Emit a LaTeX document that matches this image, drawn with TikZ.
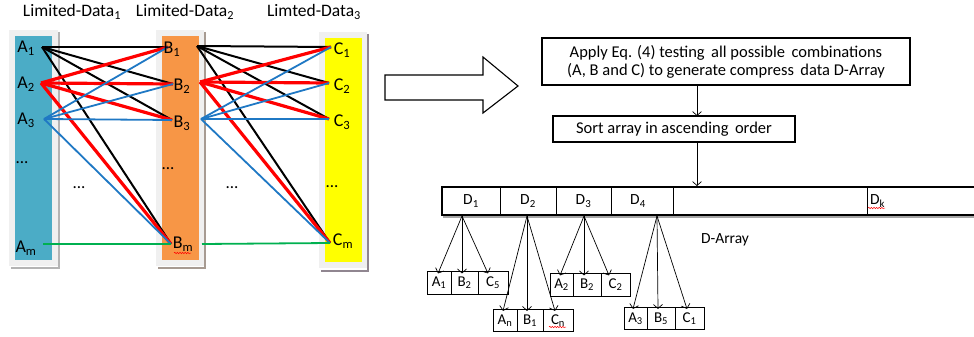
\documentclass[tikz,border=0pt]{standalone}
\usepackage{fontspec}
\setmainfont{Carlito}
\usetikzlibrary{arrows.meta,decorations.pathmorphing}

\definecolor{aquabar}{HTML}{4BACC6}
\definecolor{orangebar}{HTML}{F79646}
\definecolor{yellowbar}{HTML}{FFFF00}
\definecolor{linkred}{HTML}{FF0000}
\definecolor{linkblue}{HTML}{1F78C4}
\definecolor{linkgreen}{HTML}{00B050}
\definecolor{cardfill}{HTML}{F0F0F0}
\definecolor{cardedge}{HTML}{B4B4B4}

\tikzset{
  card/.style={fill=cardfill, draw=none},
  cardshadow/.style={draw=cardedge, line width=2.2pt},
  linkblack/.style={draw=black, line width=2pt},
  linkr/.style={draw=linkred, line width=3.2pt},
  linkb/.style={draw=linkblue, line width=1.8pt},
  linkg/.style={draw=linkgreen, line width=1.8pt},
  colhead/.style={font=\fontsize{17.5}{19}\selectfont, inner sep=0pt},
  itemlbl/.style={font=\fontsize{18}{19}\selectfont, inner sep=0pt},
  dots/.style={font=\fontsize{17}{18}\selectfont, inner sep=0pt},
  flowbox/.style={draw=black, line width=1.1pt, align=center, inner sep=0pt,
                  font=\fontsize{16.5}{18}\selectfont},
  flowarrow/.style={draw=black, line width=0.7pt, -{Straight Barb[length=4pt,width=9pt]}},
  dcell/.style={draw=black, line width=1pt, minimum height=28pt, inner sep=0pt,
                font=\fontsize{15.5}{17}\selectfont},
  scell/.style={draw=black, line width=0.6pt, minimum height=22.5pt, inner sep=0pt,
                font=\fontsize{15}{16}\selectfont},
  squiggle/.style={draw=linkred, line width=0.5pt, decorate,
                   decoration={snake, amplitude=0.7pt, segment length=2.6pt}},
}

\begin{document}
\begin{tikzpicture}[x=1pt, y=-1pt]
\useasboundingbox (0,0) rectangle (974,337);
\clip (0,0) rectangle (974,337);

% ---------- three data columns: card, shadow, coloured bar ----------
\fill[card] (9,30) rectangle (58,266);
\draw[cardshadow] (59,32) -- (59,268) -- (11,268);
\fill[aquabar] (15,36) rectangle (52,260);

\fill[card] (156,30) rectangle (204,266);
\draw[cardshadow, draw=cardedge!80!orangebar!60!gray] (205,32) -- (205,268) -- (158,268);
\fill[orangebar] (162,36) rectangle (199,260);

\fill[card] (319,32) rectangle (367,268);
\draw[cardshadow, draw=cardedge!80!violet!40!gray] (368,34) -- (368,271) -- (321,271);
\fill[yellowbar] (325,38) rectangle (362,262);

% column headings
\node[colhead] (h1) at (72,12) {Limited-Data\textsubscript{1}};
\node[colhead] (h2) at (185,12) {Limited-Data\textsubscript{2}};
\node[colhead] (h3) at (314,12) {Limted-Data\textsubscript{3}};

% ---------- connection points ----------
\coordinate (a1) at (42,47);
\coordinate (a2) at (41,83);
\coordinate (a3) at (44,119);
\coordinate (am) at (43,244);
\coordinate (b1i) at (168,47);
\coordinate (b2i) at (173,84);
\coordinate (b3i) at (172,120);
\coordinate (bmi) at (171,244);
\coordinate (b1o) at (197,46);
\coordinate (b2o) at (200,82);
\coordinate (b3o) at (201,119);
\coordinate (bmo) at (202,244);
\coordinate (c1) at (331,47);
\coordinate (c2) at (329,83);
\coordinate (c3) at (329,119);
\coordinate (cm) at (330,243);

% ---------- all pairings between neighbouring columns ----------
\foreach \t in {b1i,b2i,b3i,bmi} \draw[linkblack] (a1) -- (\t);
\foreach \t in {c1,c2,c3,cm} \draw[linkblack] (b1o) -- (\t);
\foreach \t in {b1i,b2i,b3i,bmi} \draw[linkr] (a2) -- (\t);
\foreach \t in {c1,c2,c3,cm} \draw[linkr] (b2o) -- (\t);
\foreach \t in {b1i,b2i,b3i,bmi} \draw[linkb] (a3) -- (\t);
\foreach \t in {c1,c2,c3,cm} \draw[linkb] (b3o) -- (\t);
\draw[linkg] (am) -- (bmi);
\draw[linkg] (bmo) -- (cm);

% item labels
\node[itemlbl] (la1) at (26,48) {A\textsubscript{1}};
\node[itemlbl] (la2) at (26,84) {A\textsubscript{2}};
\node[itemlbl] (la3) at (26,120) {A\textsubscript{3}};
\node[itemlbl] (lam) at (26,248) {A\textsubscript{m}};
\node[itemlbl] (lb1) at (172,49) {B\textsubscript{1}};
\node[itemlbl] (lb2) at (182,86) {B\textsubscript{2}};
\node[itemlbl] (lb3) at (182,123) {B\textsubscript{3}};
\node[itemlbl] (lbm) at (183,244) {B\textsubscript{m}};
\node[itemlbl] (lc1) at (342,50) {C\textsubscript{1}};
\node[itemlbl] (lc2) at (342,86) {C\textsubscript{2}};
\node[itemlbl] (lc3) at (342,122) {C\textsubscript{3}};
\node[itemlbl] (lcm) at (343,241) {C\textsubscript{m}};
\draw[squiggle] (174,253) -- (191,253);

% ellipses
\node[dots] (e1) at (22,163) {...};
\node[dots] (e2) at (79,188) {...};
\node[dots] (e3) at (168,169) {...};
\node[dots] (e4) at (232,188) {...};
\node[dots] (e5) at (332,187) {...};

% ---------- block arrow ----------
\draw[line width=1.1pt, line join=miter] (385,75) -- (483,75) -- (483,57) -- (518,86)
  -- (483,113) -- (483,100) -- (385,100) -- cycle;

% ---------- processing steps ----------
\node[flowbox, minimum width=368pt, minimum height=47pt] (apply) at (726,61.5)
  {Apply Eq. (4) testing\, all possible\, combinations\\(A, B and C) to generate compress\, data D-Array};
\node[flowbox, minimum width=242pt, minimum height=26pt] (sort) at (674,129)
  {Sort array in ascending\, order};
\coordinate (applyout) at (697,85);
\coordinate (sortin) at (697,116);
\coordinate (sortout) at (697,142);
\coordinate (arrin) at (697,186);
\draw[flowarrow] (applyout) -- (sortin);
\draw[flowarrow] (sortout) -- (arrin);

% ---------- D-Array ----------
\draw[draw=gray!70, line width=2pt] (443,217) -- (990,217);
\node[dcell, minimum width=58pt] (d1) at (471,201) {D\textsubscript{1}};
\node[dcell, minimum width=56pt] (d2) at (528,201) {D\textsubscript{2}};
\node[dcell, minimum width=55pt] (d3) at (583.5,201) {D\textsubscript{3}};
\node[dcell, minimum width=62pt] (d4) at (642,201) {\hspace*{-8pt}D\textsubscript{4}};
\node[dcell, minimum width=194pt] (dmid) at (770,201) {};
\node[dcell, minimum width=123pt, text width=117pt, align=left] (dk) at (928.5,201) {D\textsubscript{k}};
\draw[line width=1.8pt] (442,187) rectangle (990,215);
\draw[squiggle] (868,208) -- (885,208);
\node[font=\fontsize{15.5}{17}\selectfont, inner sep=0pt] (dlabel) at (725,240) {D-Array};

% ---------- members of D1..D4 ----------
\node[scell, minimum width=24pt] (g1a) at (439,283) {A\textsubscript{1}};
\node[scell, minimum width=27pt] (g1b) at (464.5,283) {B\textsubscript{2}};
\node[scell, minimum width=30pt] (g1c) at (493,283) {C\textsubscript{5}};

\node[scell, minimum width=24pt] (g2a) at (505,320.5) {A\textsubscript{n}};
\node[scell, minimum width=26pt] (g2b) at (530,320.5) {B\textsubscript{1}};
\node[scell, minimum width=30pt] (g2c) at (558,320.5) {C\textsubscript{n}};
\draw[squiggle] (549,327) -- (566,327);

\node[scell, minimum width=23pt] (g3a) at (561.5,285) {A\textsubscript{2}};
\node[scell, minimum width=28pt] (g3b) at (587,285) {B\textsubscript{2}};
\node[scell, minimum width=29pt] (g3c) at (615.5,285) {C\textsubscript{2}};

\node[scell, minimum width=23pt] (g4a) at (635.5,318.5) {A\textsubscript{3}};
\node[scell, minimum width=28pt] (g4b) at (661,318.5) {B\textsubscript{5}};
\node[scell, minimum width=29pt] (g4c) at (689.5,318.5) {C\textsubscript{1}};

\coordinate (s1) at (462,216);
\coordinate (s2) at (527,216);
\coordinate (s3) at (584,216);
\coordinate (s4) at (657,216);
\draw[flowarrow] (s1) -- ([xshift=-1pt,yshift=-2pt]g1a.north);
\draw[flowarrow] (s1) -- ([xshift=-2.5pt,yshift=-2pt]g1b.north);
\draw[flowarrow] (s1) -- ([xshift=-5pt,yshift=-2pt]g1c.north);
\draw[flowarrow] (s2) -- ([xshift=-2pt,yshift=-2pt]g2a.north);
\draw[flowarrow] (s2) -- ([xshift=-3pt,yshift=-2pt]g2b.north);
\draw[flowarrow] (s2) -- ([xshift=-3pt,yshift=-2pt]g2c.north);
\draw[flowarrow] (s3) -- ([xshift=-1.5pt,yshift=-2pt]g3a.north);
\draw[flowarrow] (s3) -- ([xshift=-3pt,yshift=-2pt]g3b.north);
\draw[flowarrow] (s3) -- ([xshift=-6.5pt,yshift=-2pt]g3c.north);
\draw[flowarrow] (s4) -- ([xshift=-2.5pt,yshift=-2pt]g4a.north);
\draw[flowarrow] (s4) -- ([xshift=-3pt,yshift=-2pt]g4b.north);
\draw[flowarrow] (s4) -- ([xshift=-2.5pt,yshift=-2pt]g4c.north);
\end{tikzpicture}
\end{document}
